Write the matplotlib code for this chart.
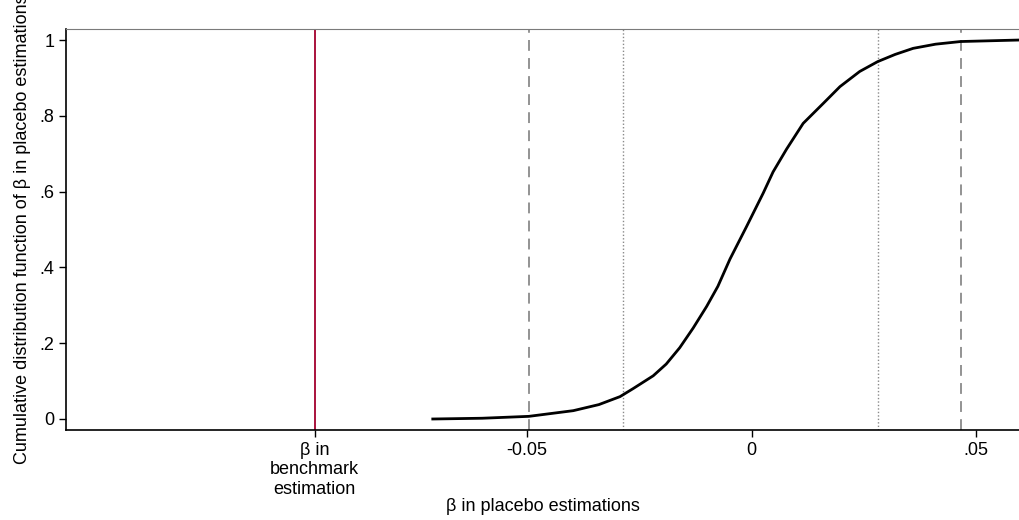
import matplotlib.pyplot as plt

beta_placebo = [-0.0710, -0.0600, -0.0496, -0.0397, -0.0340, -0.0293, -0.0264, -0.0219,
                -0.0190, -0.0160, -0.0130, -0.0100, -0.0075, -0.0048, -0.0011, 0.0026,
                0.0048, 0.0078, 0.0115, 0.0160, 0.0197, 0.0241, 0.0281, 0.0320,
                0.0360, 0.0410, 0.0466, 0.0598]
cdf = [0.000, 0.002, 0.007, 0.022, 0.038, 0.059, 0.080, 0.114,
       0.145, 0.188, 0.240, 0.297, 0.350, 0.422, 0.508, 0.596,
       0.652, 0.712, 0.780, 0.833, 0.877, 0.917, 0.943, 0.962,
       0.978, 0.989, 0.996, 1.000]

beta_benchmark = -0.0973
pct_2_5 = [-0.0496, 0.0466]   # dashed
pct_10 = [-0.0287, 0.0281]    # dotted

xticks = [beta_benchmark, -0.05, 0, 0.05]
xtick_labels = ["\u03b2 in\nbenchmark\nestimation", "-0.05", "0", ".05"]
yticks = [0, 0.2, 0.4, 0.6, 0.8, 1]
ytick_labels = ["0", ".2", ".4", ".6", ".8", "1"]

plt.rcParams['font.family'] = ['Liberation Sans', 'DejaVu Sans']
plt.rcParams['font.size'] = 13

fig = plt.figure(figsize=(10.2, 5.2), dpi=100)
ax = fig.add_axes([0.0647, 0.1731, 0.9353, 0.7711])

ax.axvline(beta_benchmark, color='#a3002d', lw=1.3)
for v in pct_2_5:
    ax.axvline(v, color='#8a8a8a', lw=1.3, ls=(0, (6, 4)))
for v in pct_10:
    ax.axvline(v, color='#8a8a8a', lw=1.0, ls=(0, (1, 1.5)))

ax.plot(beta_placebo, cdf, color='black', lw=2)

ax.set_xlim(-0.1527, 0.0598)
ax.set_ylim(-0.029, 1.029)
ax.set_xticks(xticks)
ax.set_xticklabels(xtick_labels)
ax.set_yticks(yticks)
ax.set_yticklabels(ytick_labels)
ax.tick_params(direction='out', length=5, width=1, color='black')

ax.spines['right'].set_visible(False)
ax.spines['top'].set_color('#7a7a7a')
ax.spines['left'].set_linewidth(1.2)
ax.spines['bottom'].set_linewidth(1.2)

ax.set_xlabel("\u03b2 in placebo estimations", labelpad=0)
ax.set_ylabel("Cumulative distribution function of \u03b2 in placebo estimations", labelpad=6)

fig.savefig("out.png", dpi=100)
